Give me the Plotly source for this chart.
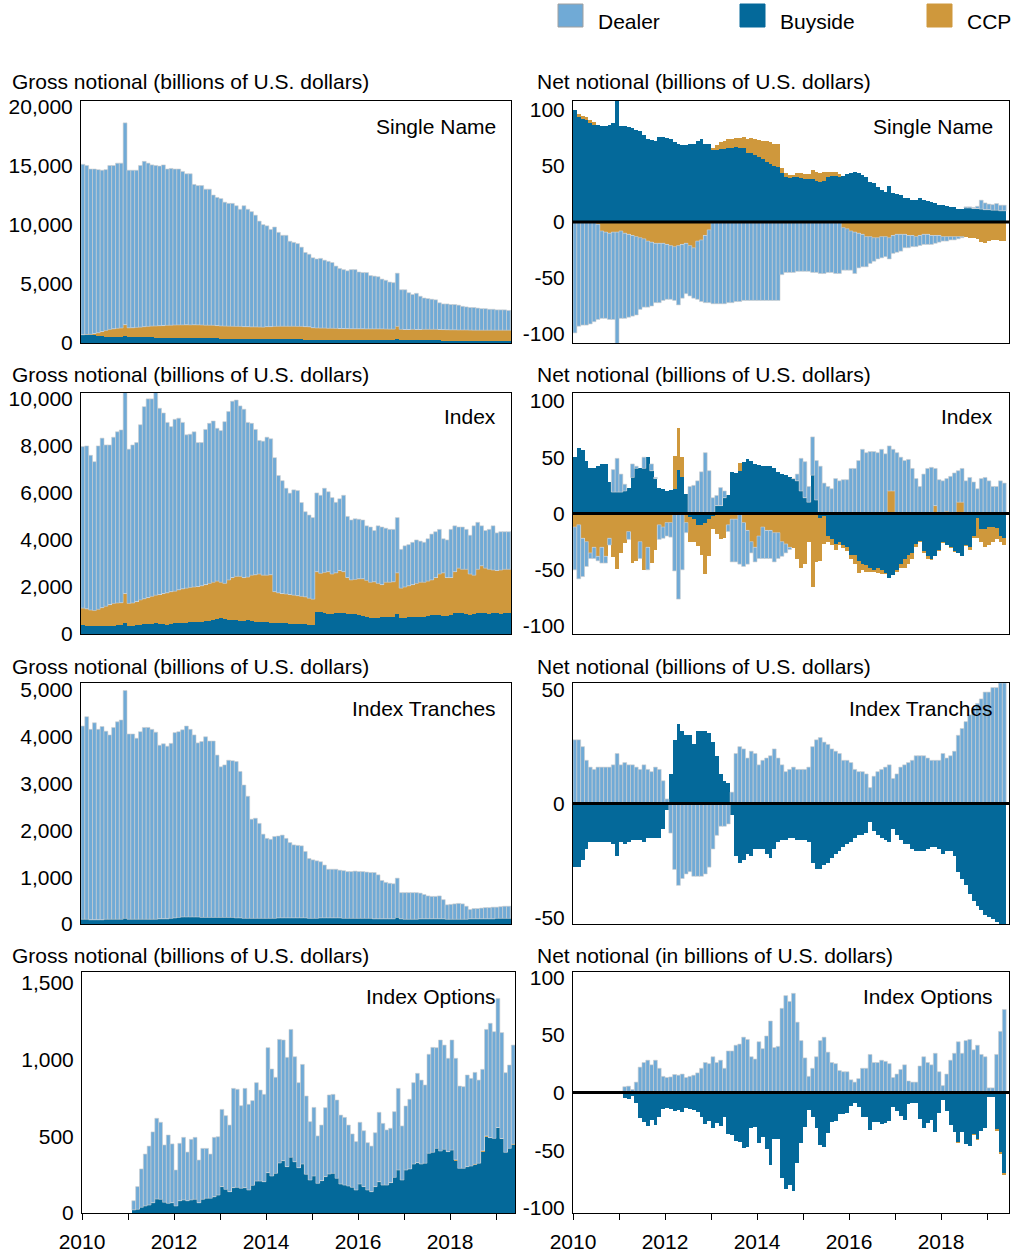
import plotly.graph_objects as go
from plotly.subplots import make_subplots

# ---------------- data (billions of U.S. dollars, monthly Jan-2010 .. May-2019) ----------------
N = 113
months = [2010 + (i + 0.5) / 12 for i in range(N)]

# Single Name - gross
sn_gross_buy = [700,700,680,650,560,550,540,530,520,520,510,600, 500,490,490,480,480,470,470,460,460,450,450,450,
                440,440,430,430,420,420,410,410,400,400,400,390, 380,380,370,370,360,360,350,350,340,340,340,330,
                330,320,320,320,310,310,300,300,300,300,290,290, 290,280,280,280,270,270,270,260,260,260,250,250,
                250,250,240,240,240,240,240,230,230,230,300,230, 230,230,230,220,220,220,220,220,220,220,210,210,
                210,210,210,210,210,210,200,200,200,200,200,200, 200,200,200,200,200]
sn_gross_ccp = [0,20,60,150,300,420,520,620,680,720,760,950, 780,800,830,860,900,930,960,980,1000,1020,1040,1050,
                1080,1090,1100,1110,1110,1120,1120,1110,1100,1100,1090,1080, 1060,1050,1050,1040,1040,1040,1030,1030,1020,1020,1010,1010,
                1050,1060,1080,1090,1100,1100,1110,1110,1100,1100,1090,1080, 1000,990,980,980,970,970,960,960,960,950,950,950,
                950,950,950,950,950,950,950,950,940,940,1100,920, 910,910,920,920,920,930,930,930,930,920,920,910,
                900,900,890,890,890,880,880,880,880,880,880,880, 880,880,880,880,880]
sn_gross_dealer = [14400,14280,13960,13900,13790,13630,13590,13850,13800,13960,13930,17050,
                   13320,13310,13280,13660,13970,13800,13620,13560,13490,13580,13210,13250,
                   13180,13170,12970,12760,12770,11860,11770,11780,11500,11500,11010,10830,
                   10760,10470,10380,10390,10200,9900,10220,9920,9740,9440,8950,8660,
                   8520,8220,8400,7940,7690,7690,7190,7090,7000,6700,6270,6130,
                   5910,5830,5890,5740,5660,5560,5270,5080,4980,4890,5000,5000,
                   4800,4750,4760,4510,4460,4410,4210,4120,3980,3930,4500,3350,
                   3360,3110,2950,3060,2810,2650,2600,2550,2500,2260,2170,2180,
                   2140,2140,2100,2000,1950,1910,1920,1870,1820,1820,1770,1770,
                   1720,1720,1720,1670,1670]

# Index - gross
idx_gross_buy = [380,350,330,320,320,320,320,330,350,370,380,450, 360,360,380,400,420,430,440,450,440,420,400,420,
                 450,470,460,470,500,500,520,530,550,570,600,640, 660,630,600,580,580,570,570,580,550,520,520,500,
                 500,480,460,460,450,450,440,430,420,420,410,400, 400,950,920,880,860,850,880,900,880,850,860,830,
                 800,760,720,700,680,700,720,720,740,740,850,680, 700,720,720,730,720,730,760,790,800,790,760,780,
                 820,880,900,880,860,820,840,880,900,880,870,880, 880,870,880,880,880]
idx_gross_ccp = [720,720,690,680,730,800,860,920,950,950,950,1270, 940,960,1000,1050,1080,1120,1160,1200,1240,1300,1350,1380,
                 1370,1410,1460,1480,1480,1500,1500,1520,1550,1580,1600,1610, 1540,1520,1700,1820,1870,1880,1830,1840,1950,2000,2030,2000,
                 2000,2040,1340,1290,1270,1250,1240,1220,1210,1180,1170,1120, 1080,1700,1660,1740,1790,1700,1720,1800,1770,1550,1440,1490,
                 1550,1590,1560,1500,1540,1450,1380,1480,1460,1480,1750,1270, 1300,1330,1380,1420,1480,1470,1490,1510,1600,1760,1840,1620,
                 1580,1770,1900,1870,1890,1730,1660,1870,2000,1920,1880,1840, 1820,1850,1870,1870,1870]
idx_gross_dealer = [6870,6930,6580,6330,6950,7210,6860,6790,7070,7280,7350,8580,
                    6560,6720,6760,7450,8170,8450,8400,8650,7920,7680,7250,7020,
                    7310,7300,7080,6520,6520,6600,6120,6090,6600,6810,6860,6500,
                    6450,6880,7160,7500,7500,7250,7160,6580,6460,6180,5680,5700,
                    5870,5780,5700,4990,4800,4500,4310,4480,4470,3990,3620,3540,
                    3470,3350,3320,3580,3400,3250,3000,3050,3250,2600,2550,2580,
                    2530,2500,2320,2350,2180,2450,2450,2300,2250,2230,2350,1650,
                    1750,1750,1800,1850,1750,1700,1800,1950,1950,1900,1450,1600,
                    2050,1950,1750,1800,1700,1650,2100,2000,1700,1600,1700,1880,
                    1600,1630,1600,1600,1600]

# Index Tranches - gross
tr_gross_buy = [100,100,90,90,90,90,100,100,100,100,100,120, 100,100,100,100,100,100,100,100,110,110,110,120,
                130,140,150,150,150,150,150,140,140,140,140,140, 140,140,140,140,130,130,120,120,120,120,120,120,
                120,120,120,130,130,130,130,130,130,130,130,120, 120,120,130,130,130,130,130,130,120,120,120,120,
                120,120,120,120,110,110,110,110,110,110,140,110, 100,100,100,100,110,110,110,110,110,110,110,100,
                100,100,100,100,100,110,110,110,110,110,110,110, 120,120,120,120,120]
tr_gross_ccp = [0] * N
tr_gross_dealer = [4130,4330,4070,4210,4070,4130,4020,3940,4100,4220,4260,4870,
                   3960,3960,3870,4010,4100,4100,4060,4000,3710,3740,3690,3740,
                   3960,3970,4000,4080,4010,3890,3720,3760,3860,3770,3770,3470,
                   3220,3260,3360,3350,3340,3130,2850,2610,2120,2140,2030,1800,
                   1710,1690,1750,1750,1770,1700,1610,1560,1550,1540,1420,1280,
                   1250,1230,1200,1130,1040,1040,1040,1020,1020,1000,1000,1010,
                   1000,1000,990,980,990,940,820,780,760,750,840,560,
                   570,570,570,570,550,520,490,480,480,490,410,310,
                   320,330,340,330,280,200,220,220,230,240,240,250,
                   240,250,260,260,260]

# Index Options - gross (no data before Feb-2011)
opt_gross_buy = [None] * 13 + [20,24,37,46,52,67,91,89,70,63,67,
                 46,80,85,80,85,89,67,89,96,96,106,117, 172,154,139,165,167,161,165,150,180,208,208,204,
                 263,241,258,326,341,302,363,334,295,319,252,215, 241,193,211,237,254,258,226,189,182,176,167,150,
                 189,172,150,139,172,204,182,182,198,232,280,215, 280,287,319,328,319,324,389,395,421,404,415,400,
                 410,341,291,291,302,306,313,324,400,497,491,486, 552,480,395,421,443]
opt_gross_ccp = [None] * 13 + [0,0,0,0,0,0,0,0,0,0,0,
                 0,0,0,0,0,0,0,0,0,0,0,0, 0,0,0,0,0,0,0,0,0,0,0,0,
                 0,0,0,0,0,0,0,0,0,0,0,0, 0,0,0,0,0,0,0,0,0,0,0,0,
                 0,0,0,0,0,0,0,0,0,0,0,0, 0,0,0,0,0,0,0,0,0,0,0,0,
                 0,5,0,0,0,0,4,0,5,5,0,0, 5,5,0,0,5]
opt_gross_dealer = [None] * 13 + [60,148,250,338,384,461,526,502,373,445,383,
                    234,374,408,317,395,404,278,332,325,288,387,380, 503,480,434,647,639,538,647,558,552,641,593,569,
                    814,697,626,805,786,712,833,684,554,649,510,380, 447,309,362,449,515,515,510,449,441,397,348,315,
                    402,364,308,297,351,452,402,359,354,428,532,352, 417,454,530,582,547,510,645,684,656,723,679,608,
                    717,662,536,532,597,571,599,542,531,694,745,695, 841,690,519,543,646]

# Single Name - net
sn_net_buy = [100,94,92,91,88,87,87,86,86,87,88,115, 86,86,85,84,82,81,78,74,73,72,76,76,
              75,74,71,70,69,69,70,70,72,74,70,70, 64,64,65,65,66,66,67,66,66,62,62,60,
              58,56,54,52,50,49,44,40,39,40,40,39, 38,38,38,37,36,37,40,41,41,40,41,43,
              44,45,44,42,40,36,35,31,29,27,32,26, 25,24,21,21,20,20,21,20,19,18,17,15,
              15,14,13,13,12,12,12.5,12.5,12,12,11.5,11, 11,10.5,10.5,10,10]
sn_net_ccp = [0,2,3,3,3,2,-2,-8,-9,-10,-9,-9, -8,-10,-11,-12,-13,-14,-15,-17,-18,-19,-19,-19,
              -20,-21,-22,-21,-20,-19,-21,-23,-17,-16,-12,-7, 2,5,6,7,8,8,8,9,10,12,13,14,
              15,16,18,19,20,21,4,4,3,2,4,5, 5,5,8,8,8,8,5,4,4,3,-5,-6,
              -8,-9,-10,-11,-13,-13,-14,-14,-13,-13,-14,-12, -11,-11,-11,-12,-12,-13,-12,-11,-11,-12,-12,-12,
              -13,-13,-13,-13,-13,-13,-13,-14,-14,-15,-18,-19, -17,-16,-16,-17,-17]
sn_net_dealer = [-99,-93,-92,-92,-91,-89,-85,-78,-77,-77,-78,-106, -78,-76,-74,-72,-70,-64,-61,-59,-57,-53,-53,-51,
                 -49,-48,-48,-53,-48,-45,-45,-45,-52,-55,-60,-65, -73,-73,-73,-73,-72,-72,-71,-71,-70,-70,-70,-70,
                 -70,-70,-70,-70,-70,-70,-47,-45,-45,-45,-44,-44, -44,-44,-45,-45,-46,-46,-45,-45,-46,-46,-38,-37,
                 -35,-37,-31,-29,-27,-24,-21,-19,-19,-18,-19,-16, -16,-15,-12,-11,-10,-9,-9,-9,-9,-8,-7,-6,
                 -4,-4,-3,-3,-2,-1,1,1,1,2,8,6, 5,5,6,5,5]

# Index - net
idx_net_buy = [50,58,56,47,40,40,42,44,44,28,19,19, 19,20,23,32,40,40,40,50,38,31,23,22,
               20,21,22,39,32,17,-3,-5,-10,-10,-8,-5, -2,7,7,14,16,37,36,38,46,48,47,44,
               43,42,42,42,40,37,35,34,32,31,29,20, 14,10,34,12,-4,-2,-20,-23,-27,-25,-28,-30,
               -37,-37,-42,-45,-46,-48,-50,-48,-50,-53,-57,-55, -50,-45,-40,-37,-35,-27,-24,-33,-38,-40,-38,-32,
               -25,-28,-30,-33,-35,-38,-28,-30,-20,-4,-14,-14, -12,-12,-13,-20,-22]
idx_net_ccp = [-12,-10,-22,-25,-35,-30,-38,-30,-38,-22,-39,-49, -35,-26,-16,-44,-42,-25,-50,-30,-44,-32,-10,-12,
               -8,-8,29,37,18,-8,-22,-20,-19,-27,-46,-33, -12,-18,-23,-22,-10,-5,-5,7,-8,-15,-25,-30,
               -20,-12,-15,-15,-17,-17,-25,-27,-30,-31,-40,-48, -45,-25,-65,-43,-38,-25,-5,-5,-5,-3,-3,-3,
               -3,-8,-11,-5,-6,-4,-2,-5,-4,-1,20,20, -2,-3,-8,-8,-5,-3,-1,-2,-2,-1,7,-1,
               -1,2,-1,-1,10,10,-1,-2,-2,-18,-11,-16, -16,-13,-10,-5,-6]
idx_net_dealer = [-38,-48,-34,-22,-5,-10,-4,-14,-6,-6,20,30, 16,6,-7,12,2,-15,10,-20,6,1,-13,-10,
                  -12,-13,-51,-76,-50,-9,24,25,29,37,54,38, 14,9,16,6,-6,-38,-38,-45,-39,-30,-10,-13,
                  -20,-28,-25,-25,-26,-23,-13,-8,-2,0,6,29, 32,14,34,35,42,27,24,22,31,29,30,30,
                  40,40,47,57,54,55,55,54,57,53,40,37, 54,50,47,48,40,31,24,35,40,41,33,30,
                  29,29,33,36,28,30,29,32,28,22,31,32, 29,24,24,29,27]

# Index Tranches - net
tr_net_buy = [-28,-28,-25,-20,-17,-17,-17,-17,-17,-17,-18,-23, -17,-18,-17,-16,-16,-16,-17,-15,-15,-15,-15,-11,
              -3,13,28,35,32,30,30,26,32,32,32,31, 27,21,13,10,9,-5,-23,-26,-25,-22,-23,-20,
              -20,-20,-22,-24,-20,-17,-16,-16,-15,-15,-16,-16, -16,-17,-26,-29,-29,-27,-26,-24,-22,-21,-19,-18,
              -17,-15,-14,-14,-13,-8,-12,-14,-15,-16,-17,-11, -14,-16,-18,-18,-20,-21,-21,-21,-20,-19,-19,-20,
              -22,-21,-21,-23,-30,-33,-36,-40,-43,-45,-47,-49, -50,-51,-52,-53,-53]
tr_net_ccp = [0] * N
tr_net_dealer = [28,28,25,19,16,15,16,16,16,16,17,22, 17,18,17,17,16,15,17,15,14,16,15,10,
                 2,-13,-29,-36,-33,-31,-30,-32,-32,-32,-31,-28, -20,-14,-10,-10,-9,5,22,25,24,20,23,22,
                 17,19,20,21,24,20,17,14,15,16,15,15, 15,16,25,28,29,27,26,24,23,22,19,19,
                 18,15,14,14,13,7,12,14,15,16,17,11, 13,16,17,18,19,21,21,21,20,19,19,19,
                 22,20,21,23,30,33,36,39,42,44,46,49, 49,51,51,53,53]

# Index Options - net
opt_net_buy = [None] * 12 + [-1.5,-5,-6,-3,-9.5,-22,-26,-29,-24,-28.5,-21,-14,
               -13.5,-14,-16,-15,-16.5,-13.5,-14.5,-15.5,-17,-21.5,-27,-25, -31,-26.5,-29,-21.5,-36,-37,-42,-43,-48,-47,-31,-30,
               -44,-38.5,-49,-63,-40,-40.5,-74,-84,-80,-85,-61.5,-44, -30,-15,-21,-31,-45.5,-47.5,-35,-26,-25,-18.5,-18.5,-18,
               -12,-9.5,-13,-21,-21,-32.5,-26,-26,-27.5,-26.5,-25,-13, -16,-20.5,-24,-10,-9.5,-9,-23,-31,-26.5,-24,-34,-18,
               -6.5,-16,-28,-34,-43,-34,-45,-46,-36,-40,-33,-31, -4,-4,-32,-52,-70]
opt_net_ccp = [None] * 12 + [0,0,0,0,0,0,0,0,0,0,0,0,
               0,0,0,0,0,0,0,0,0,0,0,0, 0,0,0,0,0,0,0,0,0,0,0,0,
               0,0,0,0,0,0,0,0,0,0,0,0, 0,0,0,0,0,0,0,0,0,0,0,0,
               0,0,0,0,0,0,0,0,0,0,0,0, 0,0,0,0,0,0,0,0,0,0,0,0,
               0,0,0,0,-1,0,0,0,-1,-1,0,0, 0,0,-1,-1,-1.5]
opt_net_dealer = [None] * 12 + [1,5,5.5,2.6,9,22,26,28,24,28,21,14,
                  13,13.5,15.6,15,16,13,14,15,17,21,26,25, 31,26,28,21,36,36,41,42,48,46,31,29,
                  44,38,49,62,39,40,73,84,79,86,61,45, 30,14,21,31,45,48,35,26,25,19,18,18,
                  11,9,12,21,21,33,26,26,28,27,25,13, 16,20,24,10,9,9,23,31,26,24,34,18,
                  6,16,28,34,44,34,45,46,37,41,33,31, 4,4,33,53,72]

# axis ticks / labels
year_ticks = list(range(2010, 2020))
year_text = ["2010", "", "2012", "", "2014", "", "2016", "", "2018", ""]

gross_ticks = [
    ([0, 5000, 10000, 15000, 20000], ["0", "5,000", "10,000", "15,000", "20,000"], [0, 20450]),
    ([0, 2000, 4000, 6000, 8000, 10000], ["0", "2,000", "4,000", "6,000", "8,000", "10,000"], [0, 10250]),
    ([0, 1000, 2000, 3000, 4000, 5000], ["0", "1,000", "2,000", "3,000", "4,000", "5,000"], [0, 5150]),
    ([0, 500, 1000, 1500], ["0", "500", "1,000", "1,500"], [0, 1570]),
]
net_ticks = [
    ([-100, -50, 0, 50, 100], ["-100", "-50", "0", "50", "100"], [-108, 108]),
    ([-100, -50, 0, 50, 100], ["-100", "-50", "0", "50", "100"], [-107, 107]),
    ([-50, 0, 50], ["-50", "0", "50"], [-53, 53]),
    ([-100, -50, 0, 50, 100], ["-100", "-50", "0", "50", "100"], [-104.5, 104.5]),
]

panel_names = ["Single Name", "Index", "Index Tranches", "Index Options"]
gross_titles = ["Gross notional (billions of U.S. dollars)"] * 4
net_titles = ["Net notional (billions of U.S. dollars)"] * 3 + ["Net notional (in billions of U.S. dollars)"]

gross_data = [
    (sn_gross_buy, sn_gross_ccp, sn_gross_dealer),
    (idx_gross_buy, idx_gross_ccp, idx_gross_dealer),
    (tr_gross_buy, tr_gross_ccp, tr_gross_dealer),
    (opt_gross_buy, opt_gross_ccp, opt_gross_dealer),
]
net_data = [
    (sn_net_buy, sn_net_ccp, sn_net_dealer),
    (idx_net_buy, idx_net_ccp, idx_net_dealer),
    (tr_net_buy, tr_net_ccp, tr_net_dealer),
    (opt_net_buy, opt_net_ccp, opt_net_dealer),
]

# ---------------- styling ----------------
W, H = 1016, 1255
DEALER = "#70AAD6"
BUYSIDE = "#04699A"
CCP = "#CF983C"
OUTLINE = "#cfcfcf"
FONT = "Liberation Sans, Arial, sans-serif"
FS = 21

def px_x(v):
    return v / W

def px_y(v):
    return 1 - v / H

row_y = [(101, 343), (393, 634), (683, 924), (972, 1213)]
left_x = [(81, 511), (81, 511), (81, 511), (82, 515)]
right_x = (573, 1009)
title_y = [82, 374, 666, 955]
label_y = [126, 417, 708, 996]

fig = make_subplots(rows=4, cols=2)

for r in range(4):
    for c, data in ((1, gross_data[r]), (2, net_data[r])):
        buy, ccp, dealer = data
        fig.add_trace(go.Bar(x=months, y=buy, name="Buyside", marker=dict(color=BUYSIDE, line=dict(width=0)),
                             showlegend=False), row=r + 1, col=c)
        fig.add_trace(go.Bar(x=months, y=ccp, name="CCP", marker=dict(color=CCP, line=dict(width=0)),
                             showlegend=False), row=r + 1, col=c)
        fig.add_trace(go.Bar(x=months, y=dealer, name="Dealer",
                             marker=dict(color=DEALER, line=dict(color=OUTLINE, width=0.6)),
                             showlegend=False), row=r + 1, col=c)

axis_common = dict(showline=True, linecolor="black", linewidth=1, mirror=True, showgrid=False,
                   zeroline=False, automargin=False,
                   tickfont=dict(family=FONT, size=FS, color="black"))

for r in range(4):
    y0, y1 = row_y[r]
    for c in (1, 2):
        idx = r * 2 + c
        xa = "xaxis" if idx == 1 else f"xaxis{idx}"
        ya = "yaxis" if idx == 1 else f"yaxis{idx}"
        if c == 1:
            xd = left_x[r]
            xr = [2010, 2010 + (xd[1] - xd[0]) / 46]
            tv, tt, yr = gross_ticks[r]
        else:
            xd = right_x
            xr = [2010, 2010 + (xd[1] - xd[0]) / 46]
            tv, tt, yr = net_ticks[r]
        xcfg = dict(axis_common, domain=[px_x(xd[0]), px_x(xd[1])], range=xr)
        if r == 3:
            xcfg.update(tickvals=year_ticks, ticktext=year_text, ticks="outside", ticklen=6,
                        tickcolor="black", showticklabels=True, ticklabelstandoff=4)
        else:
            xcfg.update(showticklabels=False, ticks="")
        ycfg = dict(axis_common, domain=[px_y(y1), px_y(y0)], range=yr, tickvals=tv, ticktext=tt,
                    ticks="", ticklabelstandoff=3)
        fig.layout[xa].update(xcfg)
        fig.layout[ya].update(ycfg)

shapes = []
annotations = []
for r in range(4):
    idx = r * 2 + 2
    shapes.append(dict(type="line", xref=f"x{idx} domain", yref=f"y{idx}", x0=0, x1=1, y0=0, y1=0,
                       line=dict(color="black", width=3), layer="above"))
    annotations.append(dict(text=gross_titles[r], xref="paper", yref="paper", x=px_x(10), y=px_y(title_y[r]),
                            xanchor="left", yanchor="middle", showarrow=False,
                            font=dict(family=FONT, size=FS, color="black")))
    annotations.append(dict(text=net_titles[r], xref="paper", yref="paper", x=px_x(535), y=px_y(title_y[r]),
                            xanchor="left", yanchor="middle", showarrow=False,
                            font=dict(family=FONT, size=FS, color="black")))
    annotations.append(dict(text=panel_names[r], xref="paper", yref="paper", x=px_x(498), y=px_y(label_y[r]),
                            xanchor="right", yanchor="middle", showarrow=False,
                            font=dict(family=FONT, size=FS, color="black")))
    annotations.append(dict(text=panel_names[r], xref="paper", yref="paper", x=px_x(995), y=px_y(label_y[r]),
                            xanchor="right", yanchor="middle", showarrow=False,
                            font=dict(family=FONT, size=FS, color="black")))

# legend (drawn as swatches + text)
legend_items = [("Dealer", DEALER, 558, "#a0a0a0"), ("Buyside", BUYSIDE, 740, BUYSIDE), ("CCP", CCP, 927, CCP)]
for name, col, x0, lc in legend_items:
    shapes.append(dict(type="rect", xref="paper", yref="paper", x0=px_x(x0), x1=px_x(x0 + 25),
                       y0=px_y(27), y1=px_y(4), fillcolor=col, line=dict(color=lc, width=1)))
    annotations.append(dict(text=name, xref="paper", yref="paper", x=px_x(x0 + 38), y=px_y(21),
                            xanchor="left", yanchor="middle", showarrow=False,
                            font=dict(family=FONT, size=FS, color="black")))

fig.update_layout(
    template="none",
    width=W, height=H, margin=dict(l=0, r=0, t=0, b=0, pad=0, autoexpand=False),
    paper_bgcolor="white", plot_bgcolor="white",
    barmode="relative", bargap=0, bargroupgap=0,
    showlegend=False, shapes=shapes, annotations=annotations,
    font=dict(family=FONT, size=FS, color="black"),
)

fig.write_html("out.html",
               config={"displayModeBar": False, "staticPlot": True},
               post_script="document.body.style.margin='0';document.body.style.padding='0';"
                           "document.body.style.overflow='hidden';")
